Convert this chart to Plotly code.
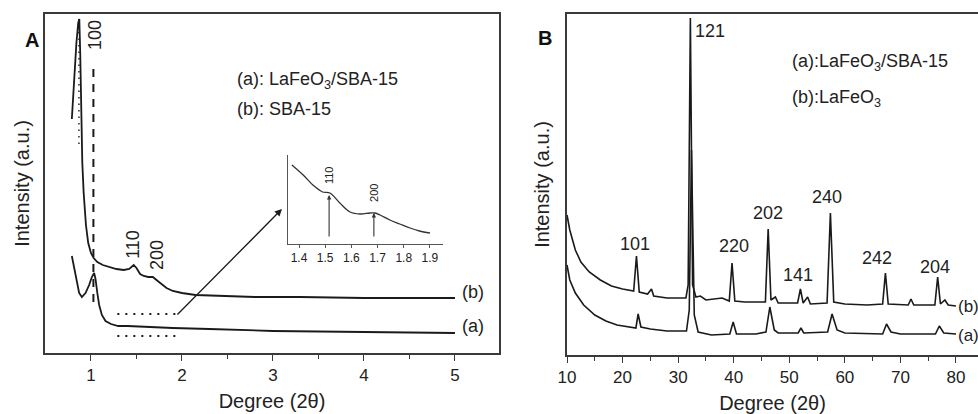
import plotly.graph_objects as go

# ---------------- Panel A (low-angle XRD) ----------------
a_sba_x = [0.79, 0.815, 0.84, 0.86, 0.872, 0.882, 0.892, 0.905, 0.92, 0.945, 0.97, 1.0, 1.03, 1.07, 1.13,
           1.2, 1.28, 1.36, 1.42, 1.47, 1.5, 1.54, 1.58, 1.63, 1.68, 1.72, 1.77, 1.83, 1.9, 2.0, 2.15,
           2.4, 2.8, 3.3, 4.0, 5.0]
a_sba_y = [234, 275, 310, 330, 334, 300, 240, 190, 160, 128, 110, 100, 95, 91, 88,
           86, 84, 83, 84, 88, 85, 79, 77, 76, 76, 73, 69, 65, 62, 60, 58,
           57, 56, 56, 55, 55]

a_lfo_x = [0.79, 0.81, 0.84, 0.87, 0.9, 0.94, 0.98, 1.01, 1.035, 1.05, 1.07, 1.09, 1.12, 1.16, 1.22,
           1.3, 1.4, 1.6, 1.9, 2.3, 3.0, 4.0, 5.0]
a_lfo_y = [97, 88, 72, 60, 56, 60, 68, 76, 80, 74, 60, 48, 38, 32, 29,
           27, 27, 26, 25, 24, 22, 21, 20]

# inset (zoom of curve a between 1.35 and 1.9)
inset_x = [1.373, 1.42, 1.453, 1.49, 1.518, 1.556, 1.595, 1.633, 1.671, 1.69, 1.71, 1.747, 1.785, 1.824, 1.86, 1.9]
inset_y = [79, 68, 59, 52, 51, 41, 32, 30, 31, 31, 29, 24, 20, 16, 13, 11]
inset_peaks = [1.515, 1.686]
inset_peak_tops = [49, 31]
inset_peak_labels = ["110", "200"]

# ---------------- Panel B (wide-angle XRD) ----------------
b_lfo_x = [10, 10.5, 11.5, 12.5, 14, 16, 18, 20, 22.0, 22.5, 23.0, 24.5, 25.2, 25.6, 28, 31.4, 31.8,
           32.2, 32.6, 33.2, 34.0, 35, 37.9, 39.2, 39.7, 40.2, 42, 45.7, 46.2, 46.7, 47.5, 48, 51.5,
           52.0, 52.5, 53.3, 53.8, 56.8, 57.4, 58.0, 60, 64, 66.8, 67.3, 67.8, 71.4, 71.9, 72.4,
           76.2, 76.7, 77.2, 78.0, 78.6, 80]
b_lfo_y = [140, 125, 105, 93, 83, 75, 69, 66, 64, 99, 63, 61, 66, 59, 57, 57, 70,
           337, 70, 58, 59, 55, 57, 54, 92, 54, 53, 53, 126, 55, 58, 52, 52,
           66, 52, 58, 51, 52, 142, 53, 51, 50, 51, 82, 51, 50, 56, 50,
           50, 78, 51, 55, 50, 49]

b_comp_x = [10, 10.5, 11.5, 13, 15, 17, 19, 21, 22.4, 22.8, 23.3, 25, 28, 31.5, 32.0, 32.4, 32.9,
            33.6, 36, 39.3, 39.9, 40.5, 44, 45.8, 46.5, 47.3, 48, 51.6, 52.1, 52.6, 56.9, 57.7,
            58.6, 60, 66.8, 67.5, 68.3, 70, 76.3, 77.0, 77.8, 80]
b_comp_y = [90, 75, 62, 50, 40, 34, 30, 28, 27, 41, 28, 26, 24, 24, 45, 205, 40,
            23, 20, 21, 33, 21, 21, 23, 48, 25, 22, 22, 27, 22, 23, 41,
            25, 22, 21, 31, 23, 21, 21, 29, 22, 21]

b_peak_labels = ["101", "121", "220", "202", "141", "240", "242", "204"]
b_peak_label_x = [22.2, 35.7, 40.0, 46.2, 51.6, 56.8, 65.8, 76.2]
b_peak_label_y = [111, 324, 109, 142, 80, 158, 97, 88]

FONT = "Liberation Sans, Arial, sans-serif"
LINE = "#1a1a1a"
AX = "#3a3a3a"
TXT = "#222222"

fig = go.Figure()

# Panel A curves
fig.add_trace(go.Scatter(x=a_sba_x, y=a_sba_y, mode="lines", line=dict(color=LINE, width=1.8),
                         name="SBA-15", xaxis="x", yaxis="y"))
fig.add_trace(go.Scatter(x=a_lfo_x, y=a_lfo_y, mode="lines", line=dict(color=LINE, width=1.8),
                         name="LaFeO3/SBA-15", xaxis="x", yaxis="y"))
# guide lines in panel A
fig.add_trace(go.Scatter(x=[0.868, 0.868], y=[334, 205], mode="lines",
                         line=dict(color=LINE, width=1.4, dash="1.5px,5px"), xaxis="x", yaxis="y"))
fig.add_trace(go.Scatter(x=[1.027, 1.027], y=[284, 44], mode="lines",
                         line=dict(color=LINE, width=2, dash="8px,7px"), xaxis="x", yaxis="y"))
fig.add_trace(go.Scatter(x=[1.29, 1.94], y=[39, 39], mode="lines",
                         line=dict(color=LINE, width=2, dash="2px,6px"), xaxis="x", yaxis="y"))
fig.add_trace(go.Scatter(x=[1.29, 1.94], y=[17, 17], mode="lines",
                         line=dict(color=LINE, width=2, dash="2px,6px"), xaxis="x", yaxis="y"))

# inset
fig.add_trace(go.Scatter(x=inset_x, y=inset_y, mode="lines", line=dict(color="#333", width=1.3, shape="spline"),
                         xaxis="x3", yaxis="y3"))

# Panel B curves
fig.add_trace(go.Scatter(x=b_lfo_x, y=b_lfo_y, mode="lines", line=dict(color=LINE, width=1.6),
                         name="LaFeO3", xaxis="x2", yaxis="y2"))
fig.add_trace(go.Scatter(x=b_comp_x, y=b_comp_y, mode="lines", line=dict(color=LINE, width=1.6),
                         name="LaFeO3/SBA-15", xaxis="x2", yaxis="y2"))

W, H = 978, 414
def dx(px0, px1):
    return [px0 / W, px1 / W]
def dy(top, bottom):
    return [(H - bottom) / H, (H - top) / H]

axis_common = dict(showline=True, linecolor=AX, linewidth=1.6, showgrid=False, zeroline=False,
                   tickfont=dict(family=FONT, size=17, color=TXT), tickcolor=AX)

fig.update_layout(
    width=W, height=H, margin=dict(l=0, r=0, t=0, b=0),
    paper_bgcolor="white", plot_bgcolor="white", showlegend=False,
    font=dict(family=FONT, color=TXT),
    xaxis=dict(domain=dx(45, 499), range=[0.495, 5.484], mirror=True, ticks="outside", ticklen=6,
               tickwidth=1.4, tickmode="linear", tick0=1, dtick=1,
               minor=dict(tickvals=[1.5, 2.5, 3.5, 4.5], ticks="outside", ticklen=4, tickcolor=AX, tickwidth=1.4),
               title=dict(text="Degree (2θ)", font=dict(family=FONT, size=20, color=TXT), standoff=10),
               anchor="y", automargin=False, **axis_common),
    yaxis=dict(domain=dy(14, 353), range=[0, 339], mirror=True, ticks="", showticklabels=False,
               title=dict(text="Intensity (a.u.)", font=dict(family=FONT, size=20, color=TXT), standoff=8),
               anchor="x", automargin=False, **axis_common),
    xaxis2=dict(domain=dx(567, 978), range=[10, 83.96], mirror=True, ticks="outside", ticklen=6,
                tickwidth=1.4, tickmode="linear", tick0=10, dtick=10,
                minor=dict(tick0=15, dtick=10, ticks="outside", ticklen=4, tickcolor=AX, tickwidth=1.4),
                title=dict(text="Degree (2θ)", font=dict(family=FONT, size=20, color=TXT), standoff=10),
                anchor="y2", automargin=False, **axis_common),
    yaxis2=dict(domain=dy(14, 355), range=[0, 341], ticks="", showticklabels=False,
                title=dict(text="Intensity (a.u.)", font=dict(family=FONT, size=20, color=TXT), standoff=10),
                anchor="x2", automargin=False, **axis_common),
    xaxis3=dict(domain=dx(288, 443), range=[1.358, 1.95], showline=True, linecolor="#555", linewidth=1.1,
                ticks="outside", ticklen=3, tickcolor="#555", tickmode="linear", tick0=1.4, dtick=0.1,
                tickformat=".1f", tickfont=dict(family=FONT, size=12, color=TXT), showgrid=False,
                zeroline=False, anchor="y3", automargin=False),
    yaxis3=dict(domain=dy(155, 244), range=[0, 89], showline=True, linecolor="#555", linewidth=1.1,
                ticks="", showticklabels=False, showgrid=False, zeroline=False, anchor="x3", automargin=False),
)

ann = []
# panel letters
ann.append(dict(text="<b>A</b>", x=23 / W, y=(H - 27) / H, xref="paper", yref="paper", showarrow=False,
                font=dict(size=20, family=FONT, color="#111")))
ann.append(dict(text="<b>B</b>", x=545 / W, y=(H - 25) / H, xref="paper", yref="paper", showarrow=False,
                font=dict(size=20, family=FONT, color="#111")))
# panel A labels
ann.append(dict(text="100", x=1.044, y=318, xref="x", yref="y", textangle=-90, showarrow=False,
                font=dict(size=18, family=FONT, color=TXT)))
ann.append(dict(text="110", x=1.46, y=109, xref="x", yref="y", textangle=-90, showarrow=False,
                font=dict(size=18, family=FONT, color=TXT)))
ann.append(dict(text="200", x=1.725, y=98, xref="x", yref="y", textangle=-90, showarrow=False,
                font=dict(size=18, family=FONT, color=TXT)))
ann.append(dict(text="(a): LaFeO<sub>3</sub>/SBA-15", x=2.58, y=273, xref="x", yref="y", xanchor="left",
                showarrow=False, font=dict(size=18, family=FONT, color=TXT)))
ann.append(dict(text="(b): SBA-15", x=2.58, y=244, xref="x", yref="y", xanchor="left",
                showarrow=False, font=dict(size=18, family=FONT, color=TXT)))
ann.append(dict(text="(b)", x=5.05, y=61, xref="x", yref="y", xanchor="left",
                showarrow=False, font=dict(size=18, family=FONT, color=TXT)))
ann.append(dict(text="(a)", x=5.05, y=27, xref="x", yref="y", xanchor="left",
                showarrow=False, font=dict(size=18, family=FONT, color=TXT)))
# big arrow from dotted box to inset
ann.append(dict(text="", x=3.099, y=144, ax=1.934, ay=37, xref="x", yref="y", axref="x", ayref="y",
                showarrow=True, arrowhead=2, arrowsize=1.1, arrowwidth=1.3, arrowcolor=LINE))
# inset arrows and labels
for px, top, lab in zip(inset_peaks, inset_peak_tops, inset_peak_labels):
    ann.append(dict(text="", x=px, y=top, ax=px, ay=6, xref="x3", yref="y3", axref="x3", ayref="y3",
                    showarrow=True, arrowhead=2, arrowsize=0.8, arrowwidth=1.1, arrowcolor="#333"))
    ann.append(dict(text=lab, x=px, y=top + 20, xref="x3", yref="y3", textangle=-90, showarrow=False,
                    font=dict(size=11, family=FONT, color=TXT)))
# panel B labels
for lab, lx, ly in zip(b_peak_labels, b_peak_label_x, b_peak_label_y):
    ann.append(dict(text=lab, x=lx, y=ly, xref="x2", yref="y2", showarrow=False,
                    font=dict(size=18, family=FONT, color=TXT)))
ann.append(dict(text="(a):LaFeO<sub>3</sub>/SBA-15", x=50.1, y=293, xref="x2", yref="y2", xanchor="left",
                showarrow=False, font=dict(size=18, family=FONT, color=TXT)))
ann.append(dict(text="(b):LaFeO<sub>3</sub>", x=50.1, y=257, xref="x2", yref="y2", xanchor="left",
                showarrow=False, font=dict(size=18, family=FONT, color=TXT)))
ann.append(dict(text="(b)", x=80.0, y=49, xref="x2", yref="y2", xanchor="left",
                showarrow=False, font=dict(size=17, family=FONT, color=TXT)))
ann.append(dict(text="(a)", x=80.0, y=20, xref="x2", yref="y2", xanchor="left",
                showarrow=False, font=dict(size=17, family=FONT, color=TXT)))

fig.update_layout(annotations=ann)
fig.write_html("out.html")
